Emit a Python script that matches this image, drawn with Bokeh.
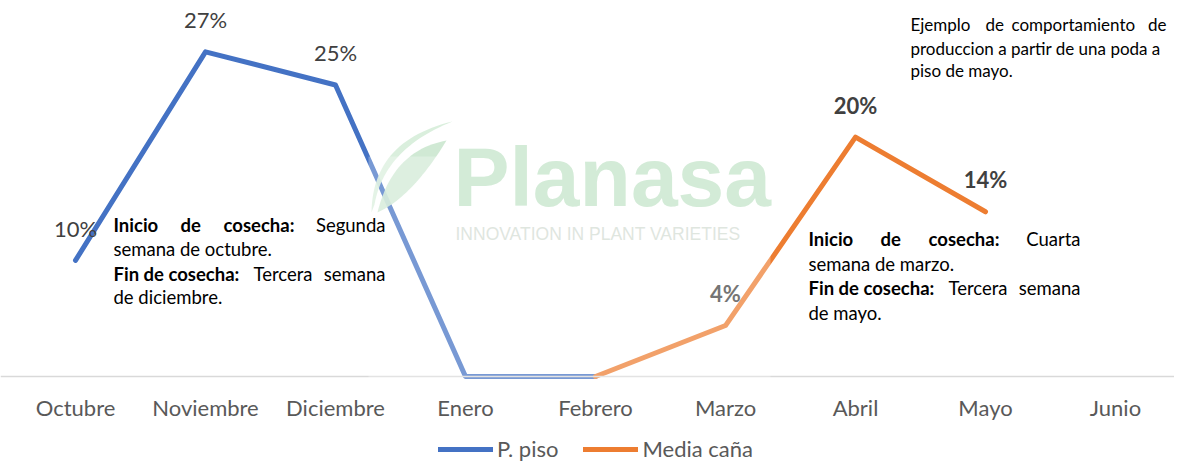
import numpy as np
from bokeh.plotting import figure
from bokeh.models import (ColumnDataSource, Range1d, Label, LabelSet, FixedTicker,
                          Legend, LegendItem, BoxAnnotation)
from bokeh.embed import file_html
from bokeh.resources import INLINE
from bokeh.core.properties import value

# ---------------- data ----------------
months = ["Octubre", "Noviembre", "Diciembre", "Enero", "Febrero",
          "Marzo", "Abril", "Mayo", "Junio"]
piso_months = ["Octubre", "Noviembre", "Diciembre", "Enero", "Febrero"]
piso_values = [9.8, 27.4, 24.6, 0.0, 0.0]
cana_months = ["Febrero", "Marzo", "Abril", "Mayo"]
cana_values = [0.0, 4.3, 20.2, 13.9]
series_names = ["P. piso", "Media caña"]

BLUE = "#4472C4"
ORANGE = "#ED7D31"

# layout constants (pixels)
W, H = 1174, 462
X_LEFT = 10        # left edge of first category
CAT_W = 130        # category width in px
Y_ZERO = 376       # pixel row of value 0
PX_PER_PCT = 11.85


def lab(v):
    return f"{round(v)}%" if v > 0 else ""


def pos(ms):
    return [months.index(m) + 0.5 for m in ms]


src_piso = ColumnDataSource(dict(x=pos(piso_months), v=piso_values,
                                 t=[lab(v) for v in piso_values]))
src_cana = ColumnDataSource(dict(x=pos(cana_months), v=cana_values,
                                 t=[lab(v) for v in cana_values]))

x_range = Range1d(-X_LEFT / CAT_W, (W - X_LEFT) / CAT_W)
y_range = Range1d(-(H - Y_ZERO) / PX_PER_PCT, Y_ZERO / PX_PER_PCT)

p = figure(x_range=x_range, y_range=y_range, width=W, height=H,
           output_backend="svg", toolbar_location=None,
           min_border_left=0, min_border_right=0, min_border_top=0,
           min_border_bottom=0, y_axis_location=None)
p.grid.visible = False
p.outline_line_color = None
p.background_fill_color = "white"

ax = p.xaxis[0]
ax.fixed_location = 0
ax.ticker = FixedTicker(ticks=[i + 0.5 for i in range(len(months))])
ax.major_label_overrides = {i + 0.5: m for i, m in enumerate(months)}
ax.axis_line_color = "#d9d9d9"
ax.axis_line_width = 1.5
ax.major_tick_line_color = None
ax.major_tick_out = 0
ax.major_tick_in = 0
ax.minor_tick_line_color = None
ax.major_label_text_font = "Lato"
ax.major_label_text_font_size = "22px"
ax.major_label_text_color = "#595959"
ax.major_label_standoff = 17

r1 = p.line(x="x", y="v", source=src_piso, line_color=BLUE, line_width=5,
            line_join="round", line_cap="round")
r2 = p.line(x="x", y="v", source=src_cana, line_color=ORANGE, line_width=5,
            line_join="round", line_cap="round")

p.add_layout(LabelSet(x="x", y="v", text="t", source=src_piso, y_offset=32,
                      text_align="center", text_baseline="middle",
                      text_font=value("Lato"), text_font_size="22px", text_color="#404040"))
p.add_layout(LabelSet(x="x", y="v", text="t", source=src_cana, y_offset=32,
                      text_align="center", text_baseline="middle",
                      text_font=value("Lato"), text_font_size="22px", text_color="#404040",
                      text_font_style="bold"))


# ---- pixel helpers for decorations (pixels -> data) ----
def dx(X):
    return (X - X_LEFT) / CAT_W


def dy(Y):
    return (Y_ZERO - Y) / PX_PER_PCT


# watermark: translucent box + leaf + text
p.add_layout(BoxAnnotation(left=dx(368), right=dx(770), top=dy(156), bottom=dy(382),
                           fill_color="white", fill_alpha=0.28, line_color=None))

t = np.linspace(0, 1, 30)


def quad(a, c, b):
    return [((1 - s) ** 2 * a[0] + 2 * (1 - s) * s * c[0] + s ** 2 * b[0],
             (1 - s) ** 2 * a[1] + 2 * (1 - s) * s * c[1] + s ** 2 * b[1]) for s in t]


leaf_outer = quad((371, 212), (372, 140), (452, 121)) + quad((452, 121), (384, 148), (374, 204))
leaf_inner = quad((377, 212), (392, 150), (446, 140)) + quad((446, 140), (412, 196), (377, 212))
for shape, col in ((leaf_outer, "#d6edd9"), (leaf_inner, "#cbe7cf")):
    p.patch([dx(x) for x, _ in shape], [dy(y) for _, y in shape], fill_color=col,
            fill_alpha=0.9, line_color=None)

p.add_layout(Label(x=dx(453), y=dy(176), text="Planasa", text_font="Liberation Sans",
                   text_font_style="bold", text_font_size="84px", text_color="#d3ebd7",
                   text_baseline="middle", text_align="left"))
p.add_layout(Label(x=dx(455), y=dy(233), text="INNOVATION IN PLANT VARIETIES",
                   text_font="Liberation Sans", text_font_size="17.5px",
                   text_color="#dfe6df", text_baseline="middle", text_align="left"))


# ---- text boxes (justified by word placement) ----
def words(lines, size):
    for y, items in lines:
        for item in items:
            txt, bold, x = item[0], item[1], item[2]
            align = item[3] if len(item) > 3 else "left"
            p.add_layout(Label(x=dx(x), y=dy(y), text=txt, text_font="Lato",
                               text_font_size=size, text_color="#000000",
                               text_font_style="bold" if bold else "normal",
                               text_align=align, text_baseline="middle"))


left_box = [
    (224, [("Inicio", 1, 113), ("de", 1, 180), ("cosecha:", 1, 223), ("Segunda", 0, 385, "right")]),
    (248, [("semana de octubre.", 0, 113)]),
    (273, [("Fin de cosecha:", 1, 113), ("Tercera", 0, 253), ("semana", 0, 385, "right")]),
    (296, [("de diciembre.", 0, 113)]),
]
right_box = [
    (238, [("Inicio", 1, 808), ("de", 1, 880), ("cosecha:", 1, 928), ("Cuarta", 0, 1080, "right")]),
    (263, [("semana de marzo.", 0, 808)]),
    (287, [("Fin de cosecha:", 1, 808), ("Tercera", 0, 948), ("semana", 0, 1080, "right")]),
    (312, [("de mayo.", 0, 808)]),
]
note = [
    (24, [("Ejemplo", 0, 910), ("de", 0, 985), ("comportamiento", 0, 1011), ("de", 0, 1166, "right")]),
    (48, [("produccion a partir de una poda a", 0, 910)]),
    (70, [("piso de mayo.", 0, 910)]),
]
words(left_box, "18.5px")
words(right_box, "18.5px")
words(note, "17px")

legend = Legend(items=[LegendItem(label=series_names[0], renderers=[r1]),
                       LegendItem(label=series_names[1], renderers=[r2])],
                location=(438, 0), orientation="horizontal", glyph_width=55,
                glyph_height=20, label_standoff=4, spacing=25, padding=0, margin=0,
                border_line_color=None, background_fill_alpha=0,
                label_text_font="Lato", label_text_font_size="22px",
                label_text_color="#595959")
p.add_layout(legend, "center")

open("out.html", "w").write(file_html(p, INLINE))
